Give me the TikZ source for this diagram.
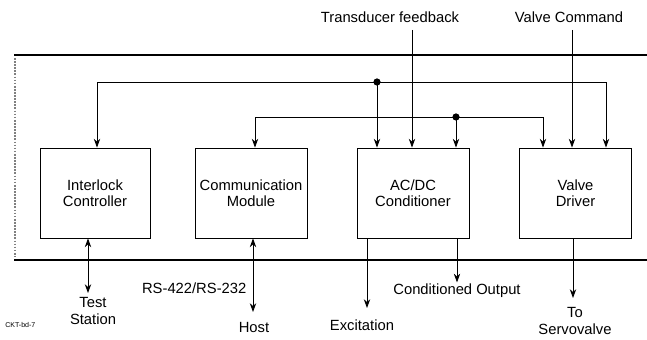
\documentclass[tikz,border=0pt]{standalone}
\usepackage{fontspec}
\setmainfont{Liberation Sans}
\usetikzlibrary{arrows.meta,calc}

\tikzset{
  unit/.style={draw, semithick, minimum width=2.8cm, minimum height=2.25cm, align=center, font=\fontsize{10.5}{11.5}\selectfont},
  lbl/.style={align=center, inner sep=1pt, font=\fontsize{10.5}{11.5}\selectfont},
  sig/.style={semithick, -{Stealth[length=2.2mm,width=1.6mm]}},
  bisig/.style={semithick, {Stealth[length=2.2mm,width=1.6mm]}-{Stealth[length=2.2mm,width=1.6mm]}},
  tap/.style={circle, fill, inner sep=0pt, minimum size=1.8mm}
}

\begin{document}
\begin{tikzpicture}[x=0.025cm, y=-0.025cm]
    \useasboundingbox (0,0) rectangle (647,340);

    % Enclosure
    \draw[thick] (14,55) -- (647,55);
    \draw[thick] (14,260) -- (647,260);
    \draw[densely dotted, gray, line width=1.2pt] (15,58) -- (15,257);

    % Units
    \node[unit, minimum width=2.75cm] (ic) at (95,193) {Interlock\\Controller};
    \node[unit] (cm) at (251,193) {Communication\\Module};
    \node[unit] (ac) at (413,193) {AC/DC\\Conditioner};
    \node[unit] (vd) at (575.5,193) {Valve\\Driver};

    % Upper bus
    \coordinate (j1) at (377,82);
    \node[tap] at (j1) {};
    \draw[sig] (j1) -| ($(ic.north)+(2,0)$);
    \draw[sig] (j1) -- (j1 |- ac.north);
    \draw[sig] (j1) -| ($(vd.north)+(30.5,0)$);

    % Lower bus
    \coordinate (j2) at (456,117);
    \node[tap] at (j2) {};
    \draw[sig] (j2) -| ($(cm.north)+(4,0)$);
    \draw[sig] (j2) -- (j2 |- ac.north);
    \draw[sig] (j2) -| ($(vd.north)+(-32.5,0)$);

    % Inputs from above
    \node[lbl] (tf) at (390,17) {Transducer feedback};
    \node[lbl] (vc) at (569,17) {Valve Command};
    \coordinate (tfin) at (412,30);
    \coordinate (vcin) at (572,30);
    \draw[sig] (tfin) -- (tfin |- ac.north);
    \draw[sig] (vcin) -- (vcin |- vd.north);

    % Outputs below
    \node[lbl] (ts) at (93,311) {Test\\Station};
    \coordinate (tsend) at (88,293);
    \draw[bisig] (tsend |- ic.south) -- (tsend);

    \node[lbl, anchor=east] (rs) at (248,288) {RS-422/RS-232};
    \node[lbl] (host) at (254,327) {Host};
    \coordinate (hostend) at (253,312);
    \draw[bisig] (hostend |- cm.south) -- (hostend);

    \node[lbl] (ex) at (362,325) {Excitation};
    \coordinate (exend) at (367,308);
    \draw[sig] (exend |- ac.south) -- (exend);

    \node[lbl] (co) at (457,291) {Conditioned Output};
    \draw[sig] (co.north |- ac.south) -- (co.north);

    \node[lbl] (sv) at (575,321) {To\\Servovalve};
    \coordinate (svend) at (573,298);
    \draw[sig] (svend |- vd.south) -- (svend);

    % Drawing tag
    \node[font=\fontsize{5}{6}\selectfont, anchor=west, inner sep=0pt] (tag) at (5,325) {CKT-bd-7};
\end{tikzpicture}
\end{document}
